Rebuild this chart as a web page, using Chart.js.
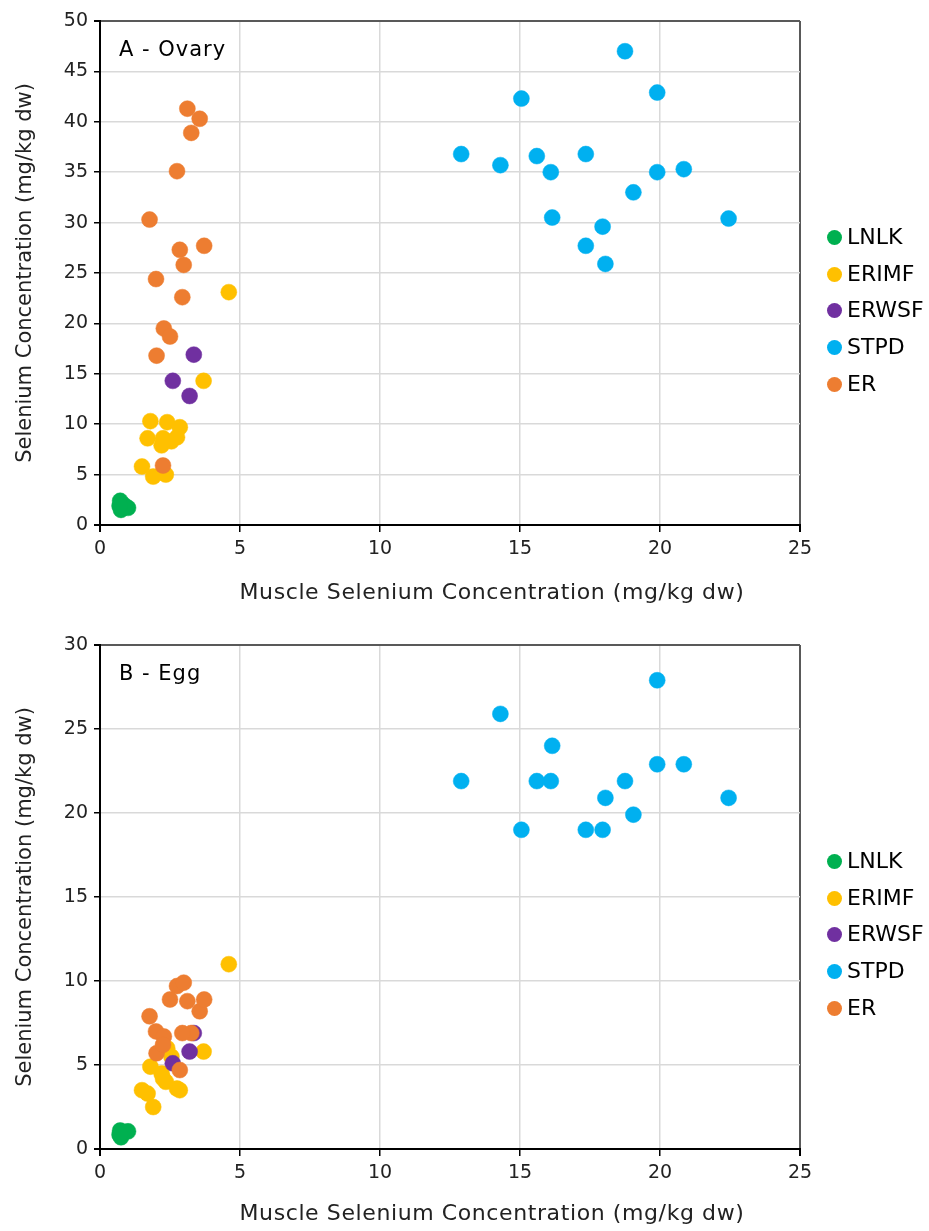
<!DOCTYPE html>
<html>
<head>
<meta charset="utf-8">
<script src="https://cdn.jsdelivr.net/npm/chart.js@4.4.0/dist/chart.umd.min.js"></script>
<style>
  body { margin: 0; background: #fff; font-family: 'DejaVu Sans', sans-serif; }
  .panel { position: relative; width: 929px; }
  .panel canvas { display: block; }
  .tag { position: absolute; left: 119px; font-size: 21px; line-height: 21px; color: #000; letter-spacing: 1px; }
  .xtitle { position: absolute; left: 0; width: 984px; text-align: center; font-size: 22px; line-height: 26px; color: #222; letter-spacing: 0.6px; white-space: nowrap; }
  .legend { position: absolute; left: 827px; }
  .legend div { position: absolute; left: 0; height: 24px; line-height: 24px; font-size: 22px; color: #000; white-space: nowrap; }
  .legend span { display: inline-block; width: 15px; height: 15px; border-radius: 50%; margin-right: 5px; vertical-align: -1px; }
</style>
</head>
<body>
<div class="panel" style="height:620px">
  <canvas id="ovaryChart" width="929" height="620"></canvas>
  <div class="tag" style="top:39px">A - Ovary</div>
  <div class="xtitle" id="xTituloA" style="top:579px"></div>
  <div class="legend" id="legendA" style="top:225px"></div>
</div>
<div class="panel" style="height:611px">
  <canvas id="eggChart" width="929" height="611"></canvas>
  <div class="tag" style="top:43px">B - Egg</div>
  <div class="xtitle" id="xTituloB" style="top:580px"></div>
  <div class="legend" id="legendB" style="top:229px"></div>
</div>
<script>
// ---------- datos ----------
const grupos = ['LNLK', 'ERIMF', 'ERWSF', 'STPD', 'ER'];
const colores = ['#00b050', '#ffc000', '#7030a0', '#00b0f0', '#ed7d31'];

// músculo (eje x), compartido por ovario y huevo
const lnlkMusculo = [0.72, 0.75, 0.85, 1.0, 0.7];
const erimfMusculo = [4.6, 3.7, 1.8, 2.4, 2.85, 1.7, 2.25, 2.75, 2.2, 2.55, 1.5, 1.9, 2.35];
const erwsfMusculo = [3.35, 2.6, 3.2];
const stpdMusculo = [12.9, 14.3, 15.05, 15.6, 16.1, 16.15, 17.35, 17.35, 17.95, 18.05, 18.75, 19.05, 19.9, 19.9, 20.85, 22.45];
const erMusculo = [3.12, 3.56, 3.26, 2.75, 1.77, 2.85, 3.72, 2.99, 2.0, 2.94, 2.28, 2.5, 2.02, 2.25];

// ovario (A)
const lnlkOvario = [2.4, 1.5, 2.0, 1.7, 1.9];
const erimfOvario = [23.1, 14.3, 10.3, 10.2, 9.7, 8.6, 8.6, 8.7, 7.9, 8.3, 5.8, 4.8, 5.0];
const erwsfOvario = [16.9, 14.3, 12.8];
const stpdOvario = [36.8, 35.7, 42.3, 36.6, 35.0, 30.5, 36.8, 27.7, 29.6, 25.9, 47.0, 33.0, 42.9, 35.0, 35.3, 30.4];
const erOvario = [41.3, 40.3, 38.9, 35.1, 30.3, 27.3, 27.7, 25.8, 24.4, 22.6, 19.5, 18.7, 16.8, 5.9];

// huevo (B)
const lnlkHuevo = [1.1, 0.7, 1.0, 1.05, 0.85];
const erimfHuevo = [11.0, 5.8, 4.9, 6.0, 3.5, 3.3, 4.2, 3.6, 4.5, 5.5, 3.5, 2.5, 4.0];
const erwsfHuevo = [6.9, 5.1, 5.8];
const stpdHuevo = [21.9, 25.9, 19.0, 21.9, 21.9, 24.0, 19.0, null, 19.0, 20.9, 21.9, 19.9, 27.9, 22.9, 22.9, 20.9];
const erHuevo = [8.8, 8.2, 6.9, 9.7, 7.9, 4.7, 8.9, 9.9, 7.0, 6.9, 6.7, 8.9, 5.7, 6.2];

const xTicks = [0, 5, 10, 15, 20, 25];
const yTicksA = [0, 5, 10, 15, 20, 25, 30, 35, 40, 45, 50];
const yTicksB = [0, 5, 10, 15, 20, 25, 30];

const tituloX = 'Muscle Selenium Concentration (mg/kg dw)';
const tituloY = 'Selenium Concentration (mg/kg dw)';

Chart.defaults.font.family = "'DejaVu Sans', sans-serif";
Chart.defaults.color = '#222';

function puntos(xs, ys) {
    const out = [];
    for (let i = 0; i < xs.length; i++) {
        if (ys[i] !== null) out.push({ x: xs[i], y: ys[i] });
    }
    return out;
}

function crearGrafico(id, series, yTicks, padTop, altoX) {
    const yMax = yTicks[yTicks.length - 1];
    const colorGrid = (max) => (c) => {
        if (!c.tick) return '#d9d9d9';
        if (c.tick.value === 0) return '#000';
        if (c.tick.value === max) return '#595959';
        return '#d9d9d9';
    };
    const anchoGrid = (max) => (c) => (c.tick && (c.tick.value === 0 || c.tick.value === max)) ? 2 : 1.5;

    return new Chart(document.getElementById(id), {
        type: 'scatter',
        data: {
            datasets: series.map((s, i) => ({
                label: grupos[i],
                data: s,
                backgroundColor: colores[i],
                borderColor: colores[i],
                borderWidth: 0.5,
                pointRadius: 8,
                pointHoverRadius: 8,
                order: grupos.length - i
            }))
        },
        options: {
            responsive: false,
            animation: false,
            layout: { padding: { left: 0, right: 129, top: padTop, bottom: 0 } },
            plugins: { legend: { display: false }, tooltip: { enabled: false } },
            scales: {
                x: {
                    type: 'linear',
                    min: xTicks[0],
                    max: xTicks[xTicks.length - 1],
                    afterBuildTicks: (s) => { s.ticks = xTicks.map(v => ({ value: v })); },
                    afterFit: (s) => { s.height = altoX; },
                    grid: { color: colorGrid(25), lineWidth: anchoGrid(25), tickColor: '#000', tickLength: 7 },
                    border: { color: '#000', width: 2 },
                    ticks: { font: { size: 19 }, color: '#222', padding: 6 }
                },
                y: {
                    type: 'linear',
                    min: 0,
                    max: yMax,
                    afterBuildTicks: (s) => { s.ticks = yTicks.map(v => ({ value: v })); },
                    afterFit: (s) => { s.width = 100; },
                    grid: { color: colorGrid(yMax), lineWidth: anchoGrid(yMax), tickColor: '#000', tickLength: 6 },
                    border: { color: '#000', width: 2 },
                    ticks: { font: { size: 19 }, color: '#222', padding: 6 },
                    title: { display: true, text: tituloY, font: { size: 21 }, color: '#222', padding: { top: 13 } }
                }
            }
        }
    });
}

const graficoOvario = crearGrafico('ovaryChart', [
    puntos(lnlkMusculo, lnlkOvario),
    puntos(erimfMusculo, erimfOvario),
    puntos(erwsfMusculo, erwsfOvario),
    puntos(stpdMusculo, stpdOvario),
    puntos(erMusculo, erOvario)
], yTicksA, 21, 95);

const graficoHuevo = crearGrafico('eggChart', [
    puntos(lnlkMusculo, lnlkHuevo),
    puntos(erimfMusculo, erimfHuevo),
    puntos(erwsfMusculo, erwsfHuevo),
    puntos(stpdMusculo, stpdHuevo),
    puntos(erMusculo, erHuevo)
], yTicksB, 25, 82);

// títulos del eje x y leyenda a la derecha (HTML)
document.getElementById('xTituloA').textContent = tituloX;
document.getElementById('xTituloB').textContent = tituloX;

function leyenda(id) {
    const cont = document.getElementById(id);
    grupos.forEach((g, i) => {
        const fila = document.createElement('div');
        fila.style.top = (i * 36.7) + 'px';
        fila.innerHTML = '<span style="background:' + colores[i] + '"></span>' + g;
        cont.appendChild(fila);
    });
}
leyenda('legendA');
leyenda('legendB');
</script>
</body>
</html>
